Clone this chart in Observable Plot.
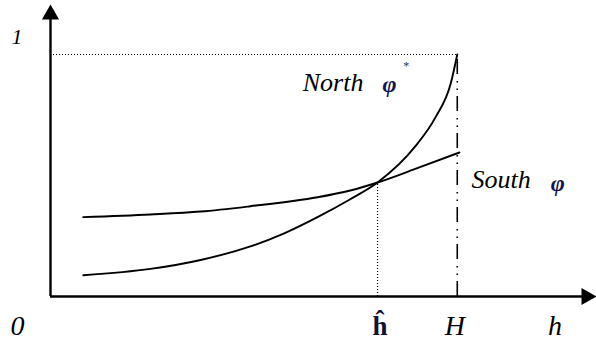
<!DOCTYPE html>
<html><head><meta charset="utf-8">
<script src="https://cdn.jsdelivr.net/npm/d3@7"></script>
<script src="https://cdn.jsdelivr.net/npm/@observablehq/plot@0.6"></script>
<style>
html,body{margin:0;padding:0;background:#fff;}
#chart svg{display:block;}
</style>
</head><body><div id="chart"></div>
<script>
// North curve (φ*)
const northH   = [6, 18.3, 27.5, 36.6, 42.7, 48.9, 54.9, 59.9, 66.8, 70.5, 73.3, 74.5];
const northPhi = [0.088, 0.114, 0.151, 0.207, 0.26, 0.328, 0.402, 0.471, 0.62, 0.74, 0.88, 1.0];
// South curve (φ)
const southH   = [6, 18.3, 27.5, 36.6, 48.9, 54.9, 59.9, 66.8, 74.9];
const southPhi = [0.328, 0.339, 0.351, 0.373, 0.41, 0.438, 0.471, 0.527, 0.595];
// special points
const hHat = 59.9;      // crossing point ĥ
const phiHat = 0.471;   // value at the crossing
const H = 74.5;         // upper bound H
const xTickValues = [hHat, H];
const xTickLabels = ["ĥ", "H"];
const yTickValues = [1];
const yTickLabels = ["1"];
const xMax = 100;       // x-axis arrow tip
const yMax = 1.207;     // y-axis arrow tip

const north = northH.map((h, i) => ({h, phi: northPhi[i]}));
const south = southH.map((h, i) => ({h, phi: southPhi[i]}));

const serif = "Liberation Serif";

const chart = Plot.plot({
  width: 596,
  height: 342,
  marginLeft: 0, marginRight: 0, marginTop: 0, marginBottom: 0,
  x: {domain: [0, xMax], range: [50, 596], axis: null},
  y: {domain: [0, 1], range: [296, 54], axis: null},
  style: {background: "#fff", overflow: "visible"},
  marks: [
    // guide lines
    Plot.ruleY([1], {x1: 0, x2: H, stroke: "#000", strokeWidth: 1.2, strokeDasharray: "1,2"}),
    Plot.ruleX([hHat], {y1: 0, y2: phiHat, stroke: "#000", strokeWidth: 1.2, strokeDasharray: "1,2"}),
    Plot.ruleX([H], {y1: 0, y2: 1, stroke: "#000", strokeWidth: 1.6, strokeDasharray: "15,6,1.5,6,1.5,7"}),
    // curves
    Plot.line(north, {x: "h", y: "phi", curve: "monotone-x", stroke: "#000", strokeWidth: 1.9}),
    Plot.line(south, {x: "h", y: "phi", curve: "monotone-x", stroke: "#000", strokeWidth: 1.9}),
    // axes
    Plot.ruleY([0], {x1: 0, x2: xMax - 1, stroke: "#000", strokeWidth: 2.4}),
    Plot.ruleX([0], {y1: 0, y2: yMax - 0.03, stroke: "#000", strokeWidth: 2.4}),
    Plot.dot([yMax], {x: 0, y: d => d, symbol: "triangle", r: 6.4, fill: "#000", stroke: "none", dy: 10}),
    Plot.dot([xMax], {x: d => d, y: 0, symbol: "triangle", rotate: 90, r: 6.4, fill: "#000", stroke: "none", dx: -10}),
    // tick labels
    Plot.text(yTickValues, {x: 0, y: d => d, text: (d, i) => yTickLabels[i], lineAnchor: "bottom", textAnchor: "start",
      dx: -39, dy: -11, fontFamily: serif, fontStyle: "italic", fontSize: 22, fill: "#000"}),
    Plot.text(["0"], {x: 0, y: 0, text: d => d, lineAnchor: "bottom", textAnchor: "start",
      dx: -40, dy: 38, fontFamily: serif, fontStyle: "italic", fontSize: 28, fill: "#000"}),
    Plot.text([xTickValues[0]], {x: d => d, y: 0, text: () => xTickLabels[0], lineAnchor: "bottom", textAnchor: "middle",
      dx: 2.5, dy: 38, fontFamily: serif, fontWeight: "bold", fontSize: 27, fill: "#111133"}),
    Plot.text([xTickValues[1]], {x: d => d, y: 0, text: () => xTickLabels[1], lineAnchor: "bottom", textAnchor: "middle",
      dx: -2.5, dy: 38, fontFamily: serif, fontStyle: "italic", fontSize: 28, fill: "#000"}),
    Plot.text(["h"], {x: 92.4, y: 0, text: d => d, lineAnchor: "bottom", textAnchor: "middle",
      dy: 38, fontFamily: serif, fontStyle: "italic", fontSize: 28, fill: "#000"}),
    // curve labels
    Plot.text(["North"], {x: 46.2, y: 0.851, text: d => d, lineAnchor: "bottom", textAnchor: "start",
      fontFamily: serif, fontStyle: "italic", fontSize: 26, fill: "#000"}),
    Plot.text(["φ"], {x: 60.8, y: 0.843, text: d => d, lineAnchor: "bottom", textAnchor: "start",
      fontFamily: serif, fontStyle: "italic", fontWeight: "bold", fontSize: 24, fill: "#141450"}),
    Plot.text(["*"], {x: 64.6, y: 0.934, text: d => d, lineAnchor: "bottom", textAnchor: "start",
      fontFamily: serif, fontSize: 12, fill: "#333355"}),
    Plot.text(["South"], {x: 77.1, y: 0.45, text: d => d, lineAnchor: "bottom", textAnchor: "start",
      fontFamily: serif, fontStyle: "italic", fontSize: 26, fill: "#000"}),
    Plot.text(["φ"], {x: 91.6, y: 0.438, text: d => d, lineAnchor: "bottom", textAnchor: "start",
      fontFamily: serif, fontStyle: "italic", fontWeight: "bold", fontSize: 24, fill: "#141450"})
  ]
});
document.getElementById("chart").appendChild(chart);
</script>
</body></html>
